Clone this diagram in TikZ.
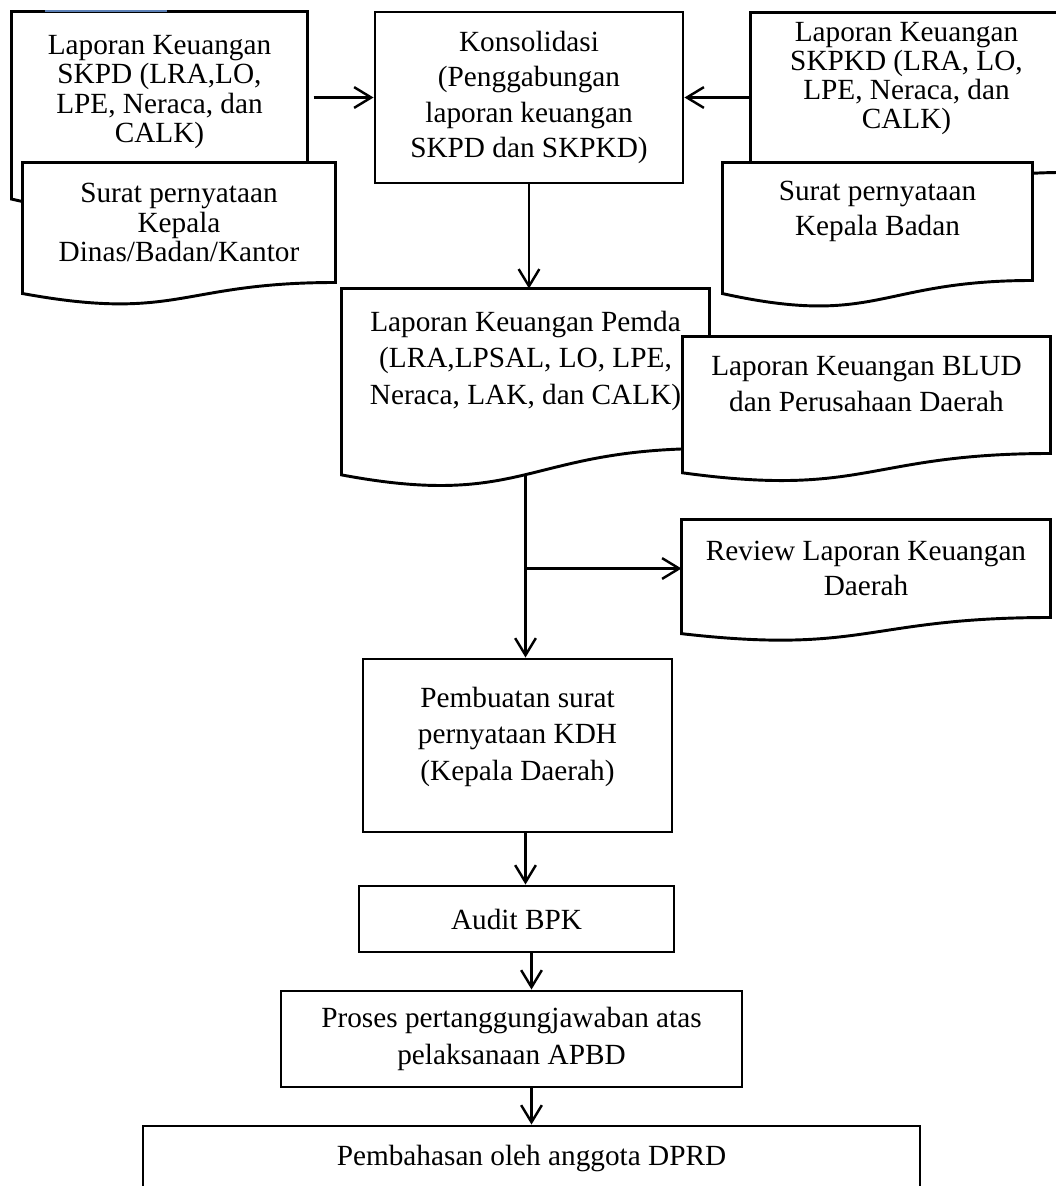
\documentclass[tikz,border=0pt]{standalone}
\usepackage{fontspec}
\setmainfont{Liberation Serif}
\usetikzlibrary{arrows.meta,calc}
\pgfdeclarelayer{background}
\pgfsetlayers{background,main}
\definecolor{APBDScan}{HTML}{5B7FB5}
\newlength{\pxu}
\setlength{\pxu}{0.41pt}
% document outline: #2 = left end, #3 = lower control, both as fraction of the node height
\newcommand{\docoutline}[3]{%
  \begin{pgfonlayer}{background}
    \filldraw[apbddocline] (#1.north west) -- (#1.north east) -- (#1.south east)
      .. controls (#1.south) and ($(#1.north)!#3!(#1.south)$)
      .. ($(#1.north west)!#2!(#1.south west)$) -- cycle;
  \end{pgfonlayer}}
\tikzset{
  apbdsize/.style 2 args={
    minimum width=#1*\pxu,
    minimum height=#2*\pxu
  },
  apbdbox/.style={
    draw=black,
    fill=white,
    line width=1.2pt,
    align=center,
    inner sep=0pt,
    font=\fontsize{12pt}{15pt}\selectfont
  },
  apbddoc/.style={
    align=center,
    inner sep=0pt,
    font=\fontsize{12pt}{15pt}\selectfont
  },
  apbdtight/.style={apbddoc,font=\fontsize{12pt}{12pt}\selectfont},
  apbdlift/.style={execute at end node={\rule[-#1]{0pt}{0pt}}},
  apbddocline/.style={draw=black,fill=white,line width=1.2pt},
  apbdflow/.style={-{Straight Barb[length=7pt,width=8.5pt]},line width=1pt},
  apbdscan/.style={draw=APBDScan,line width=0.6pt}
}

\begin{document}
\begin{tikzpicture}[x=0.41pt,y=-0.41pt]
  \useasboundingbox (0,0) rectangle (1055,1186);
  \node[apbdtight,apbdsize={295}{160}] (skpd) at (159.5,92) {Laporan Keuangan\\SKPD (LRA,LO,\\LPE, Neraca, dan\\CALK)};
  \docoutline{skpd}{1.165}{1.381}
  \draw[apbdscan] ($(skpd.north west)+(33,-0.5)$) -- ++(122,0);
  \node[apbdtight,apbdsize={312}{119}] (dinas) at (179,222.5) {Surat pernyataan\\Kepala\\Dinas/Badan/Kantor};
  \docoutline{dinas}{1.092}{1.33}
  \node[apbdbox,apbdsize={308}{171},font=\fontsize{12pt}{14.4pt}\selectfont] (kons) at (529,97.5) {Konsolidasi\\(Penggabungan\\laporan keuangan\\SKPD dan SKPKD)};
  \node[apbdtight,apbdsize={311}{159},apbdlift=14pt] (skpkd) at (906.5,92.5) {Laporan Keuangan\\SKPKD (LRA, LO,\\LPE, Neraca, dan\\CALK)};
  \docoutline{skpkd}{1.165}{1.381}
  \node[apbddoc,apbdsize={309}{117},font=\fontsize{12pt}{14pt}\selectfont,apbdlift=10.8pt] (badan) at (877.5,221.5) {Surat pernyataan\\Kepala Badan};
  \docoutline{badan}{1.111}{1.40}
  \node[apbddoc,apbdsize={367}{159},apbdlift=9pt] (pemda) at (525.5,368.5) {Laporan Keuangan Pemda\\(LRA,LPSAL, LO, LPE,\\Neraca, LAK, dan CALK)};
  \docoutline{pemda}{1.165}{1.381}
  \node[apbddoc,apbdsize={367}{116},apbdlift=9pt] (blud) at (866.5,395) {Laporan Keuangan BLUD\\dan Perusahaan Daerah};
  \docoutline{blud}{1.165}{1.381}
  \node[apbddoc,apbdsize={368}{97},font=\fontsize{12pt}{14pt}\selectfont] (review) at (866,568.5) {Review Laporan Keuangan\\Daerah};
  \docoutline{review}{1.165}{1.381}
  \node[apbdbox,apbdsize={309}{173},apbdlift=9.6pt] (buat) at (517.5,745.5) {Pembuatan surat\\pernyataan KDH\\(Kepala Daerah)};
  \node[apbdbox,apbdsize={315}{66}] (audit) at (516.5,919) {Audit BPK};
  \node[apbdbox,apbdsize={461}{96}] (proses) at (511.5,1039) {Proses pertanggungjawaban atas\\pelaksanaan APBD};
  \node[apbdbox,apbdsize={777}{64}] (dprd) at (531.5,1158) {Pembahasan oleh anggota DPRD};
  \coordinate (pemdaout) at ($(pemda.north)!1.163!(pemda.south)$);
  \draw[apbdflow,shorten <=2.5pt] (skpd.east |- kons.west) -- (kons.west);
  \draw[apbdflow] (skpkd.west |- kons.east) -- (kons.east);
  \draw[apbdflow] (kons.south) -- (kons.south |- pemda.north);
  \draw[apbdflow] (pemdaout) -- (pemdaout |- buat.north);
  \draw[apbdflow] (pemdaout |- review.west) -- (review.west);
  \draw[apbdflow] (pemdaout |- buat.south) -- (pemdaout |- audit.north);
  \draw[apbdflow] (dprd.north |- audit.south) -- (dprd.north |- proses.north);
  \draw[apbdflow] (dprd.north |- proses.south) -- (dprd.north);
\end{tikzpicture}
\end{document}
